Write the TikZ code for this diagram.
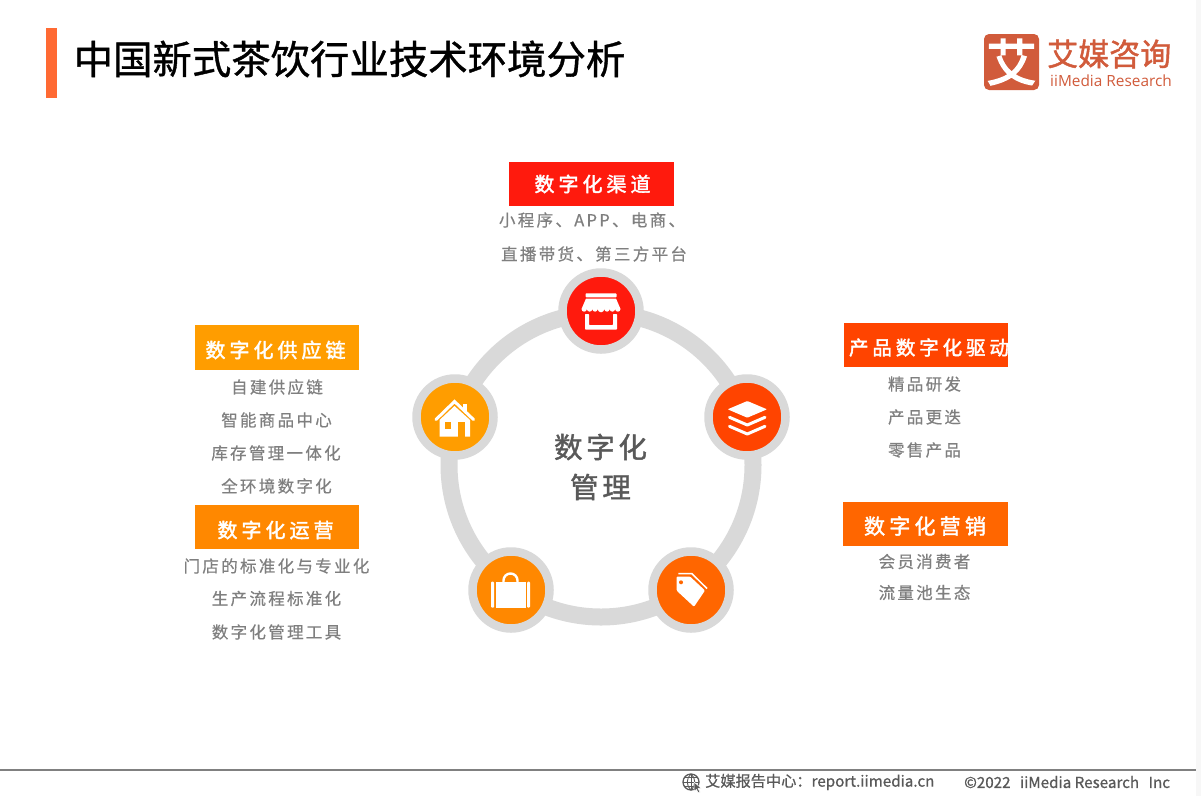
\documentclass[tikz,border=0pt]{standalone}
\usepackage{fontspec}
\setmainfont{Noto Sans CJK SC}
\newfontfamily\cjkbody[LetterSpace=14,FakeBold=0.5]{Noto Sans CJK SC}
\newfontfamily\cjkhead[LetterSpace=20,FakeBold=2]{Noto Sans CJK SC}
\newfontfamily\cjktitle[FakeBold=1]{Noto Sans CJK SC}
\newfontfamily\cjkcentre[LetterSpace=13,FakeBold=1.5]{Noto Sans CJK SC}
\newfontfamily\cjklogo[FakeBold=1.5]{Noto Sans CJK SC}
\newfontfamily\cjkmark[FakeBold=3]{Noto Sans CJK SC}
\newfontfamily\cjkfoot[FakeBold=0.8]{Noto Sans CJK SC}
\newfontfamily\latinlogo{Open Sans}
\definecolor{ringgray}{HTML}{D9D9D9}
\definecolor{bodygray}{HTML}{7F7F7F}
\definecolor{centregray}{HTML}{595959}
\definecolor{cred}{HTML}{FF1A0D}
\definecolor{cdeep}{HTML}{FF4400}
\definecolor{ctangerine}{HTML}{FF6600}
\definecolor{camber}{HTML}{FF8800}
\definecolor{cyellow}{HTML}{FF9D00}
\definecolor{accent}{HTML}{FF6A33}
\definecolor{logored}{HTML}{D15B3B}
\tikzset{
  x=1pt,y=-1pt,
  headbox/.style={minimum width=164.5pt,minimum height=44pt,inner sep=0pt},
  headlabel/.style={text=white,inner sep=0pt,font=\cjkhead\fontsize{20}{20}\selectfont},
  bodytext/.style={text=bodygray,inner sep=0pt,font=\cjkbody\fontsize{16.5}{16.5}\selectfont},
  badge/.style={circle,fill=#1,draw=ringgray,line width=8.5pt,minimum size=77pt,inner sep=0pt},
  ringline/.style={circle,draw=ringgray,line width=17pt,minimum size=304pt,inner sep=0pt},
  foottext/.style={text=centregray,inner sep=0pt,font=\cjkfoot\fontsize{15.2}{15.2}\selectfont,anchor=west},
}
\begin{document}
\begin{tikzpicture}
\useasboundingbox (0,0) rectangle (1201,796);
\fill[white] (0,0) rectangle (1201,796);
\fill[black!3] (1196,0) rectangle (1201,796);
% title
\fill[accent] (46,28) rectangle (57,98);
\node[anchor=west,inner sep=0pt,text=black,font=\cjktitle\fontsize{39.4}{39.4}\selectfont] (title) at (73.5,59) {中国新式茶饮行业技术环境分析};
% logo
\fill[logored,rounded corners=5pt] (984,34) rectangle (1039,90);
\node[inner sep=0pt,text=white,font=\cjkmark\fontsize{50}{50}\selectfont] (logomark) at (1011.5,62) {艾};
\node[anchor=west,inner sep=0pt,text=logored,font=\cjklogo\fontsize{31}{31}\selectfont] (logocn) at (1047,54) {艾媒咨询};
\node[anchor=west,inner sep=0pt,text=logored,font=\latinlogo\fontsize{15.4}{15.4}\selectfont] (logoen) at (1050,81) {iiMedia Research};
% ring and badges
\node[ringline] (ring) at (601,465) {};
\node[badge=cred] (b1) at (601,311) {};
\node[badge=cdeep] (b2) at (747,417) {};
\node[badge=ctangerine] (b3) at (691,590) {};
\node[badge=camber] (b4) at (511,590) {};
\node[badge=cyellow] (b5) at (455,417) {};
% store icon
\fill[white,rounded corners=.8pt] (585.5,293.3) rectangle (616.5,297.3);
\fill[white] (586,298.5) -- (616,298.5) -- (620.5,309) arc[start angle=0,end angle=180,radius=2.7] -- (615.1,309)
  arc[start angle=0,end angle=180,radius=2.7] -- (609.7,309) arc[start angle=0,end angle=180,radius=2.7]
  -- (604.3,309) arc[start angle=0,end angle=180,radius=3.3] -- (597.7,309) arc[start angle=0,end angle=180,radius=2.7]
  -- (592.3,309) arc[start angle=0,end angle=180,radius=2.7] -- (586.9,309) arc[start angle=0,end angle=180,radius=2.7]
  -- (581.5,309) -- cycle;
\fill[white,rounded corners=.6pt] (585,314) -- (589,314) -- (589,325) -- (613,325) -- (613,314) -- (617,314) -- (617,329.5) -- (585,329.5) -- cycle;
% layers icon
\fill[white,rounded corners=.8pt] (747.3,401) -- (767,409.3) -- (747.3,417.7) -- (727.7,409.3) -- cycle;
\draw[white,line width=3pt,line cap=round,line join=round] (729.5,417.3) -- (747.3,425) -- (765,417.3);
\draw[white,line width=3pt,line cap=round,line join=round] (729.5,426.3) -- (747.3,434) -- (765,426.3);
% tag icon
\fill[white,rounded corners=1pt] (676.7,576.5) -- (690,576.5) -- (705,590.5) -- (694,606.7) -- (676.7,590.7) -- cycle;
\fill[ctangerine] (681,582.3) circle (2);
\draw[white,line width=1.5pt] (678.3,573.5) -- (691.7,573.5) -- (707,588.5);
% bag icon
\fill[white,rounded corners=1pt] (491,581.7) rectangle (494.2,607.7);
\fill[white,rounded corners=1pt] (527.2,581.7) rectangle (530,607.7);
\fill[white] (496,581.7) rectangle (525.6,607.7);
\draw[white,line width=2.4pt] (503.5,582) -- (503.5,580.5) arc[start angle=180,end angle=360,radius=7] -- (517.5,582);
% house icon
\fill[white] (439.5,420) -- (454.5,406) -- (470,420) -- (470,436.7) -- (439.5,436.7) -- cycle;
\fill[cyellow] (444.5,422) rectangle (451,429);
\fill[cyellow] (458,421.7) rectangle (465,436.7);
\fill[white] (462.5,404) rectangle (467,412);
\draw[white,line width=3pt,line cap=round] (436,419.5) -- (454.5,401.5) -- (473.5,419.5);
% centre
\node[inner sep=0pt,text=centregray,font=\cjkcentre\fontsize{28.5}{28.5}\selectfont] (c1) at (600.5,447) {数字化};
\node[inner sep=0pt,text=centregray,font=\cjkcentre\fontsize{28.5}{28.5}\selectfont] (c2) at (600.5,487) {管理};
% top group
\node[headbox,fill=cred,minimum width=165pt] (h1) at (591.5,184) {};
\node[headlabel] (h1t) at (592.5,184) {数字化渠道};
\node[bodytext] (t11) at (592,220) {小程序、APP、电商、};
\node[bodytext] (t12) at (594,254) {直播带货、第三方平台};
% left upper
\node[headbox,fill=cyellow,minimum height=45pt] (h2) at (277,347.5) {};
\node[headlabel] (h2t) at (275.5,350) {数字化供应链};
\node[bodytext] (t21) at (277,387) {自建供应链};
\node[bodytext] (t22) at (276.5,420) {智能商品中心};
\node[bodytext] (t23) at (276,453) {库存管理一体化};
\node[bodytext] (t24) at (276.5,486) {全环境数字化};
% left lower
\node[headbox,fill=camber] (h3) at (277,527) {};
\node[headlabel] (h3t) at (275.5,530) {数字化运营};
\node[bodytext] (t31) at (276.5,566) {门店的标准化与专业化};
\node[bodytext] (t32) at (276.5,598.5) {生产流程标准化};
\node[bodytext] (t33) at (276.5,632) {数字化管理工具};
% right upper
\node[headbox,fill=cdeep] (h4) at (926,345) {};
\node[headlabel,font=\cjkhead\fontsize{19.5}{19.5}\selectfont] (h4t) at (929,347.5) {产品数字化驱动};
\node[bodytext] (t41) at (924.5,384) {精品研发};
\node[bodytext] (t42) at (924.5,417) {产品更迭};
\node[bodytext] (t43) at (924.5,450) {零售产品};
% right lower
\node[headbox,fill=ctangerine] (h5) at (925.5,524) {};
\node[headlabel,font=\cjkhead\fontsize{21}{21}\selectfont] (h5t) at (925,526) {数字化营销};
\node[bodytext] (t51) at (924.5,561.5) {会员消费者};
\node[bodytext] (t52) at (924.5,592.5) {流量池生态};
% footer
\draw[gray,line width=1.5pt] (0,770) -- (1196,770);
\draw[centregray,line width=1.3pt] (691,782) circle (8);
\draw[centregray,line width=.9pt] (683,782) -- (699,782) (691,774) -- (691,790) (685,777.5) -- (697,777.5) (685,786.5) -- (697,786.5);
\draw[centregray,line width=.9pt] (691,774) .. controls (686,778) and (686,786) .. (691,790);
\draw[centregray,line width=.9pt] (691,774) .. controls (696,778) and (696,786) .. (691,790);
\fill[centregray,draw=white,line width=.5pt] (694,782) -- (701,788) -- (698,788.5) -- (700,792) -- (698,792.5) -- (696.5,789.5) -- (694,791) -- cycle;
\node[foottext] (f1) at (705,782) {艾媒报告中心：report.iimedia.cn};
\node[foottext] (f2) at (964,782) {©2022\hspace{6pt} iiMedia Research\hspace{6pt} Inc};
\end{tikzpicture}
\end{document}
